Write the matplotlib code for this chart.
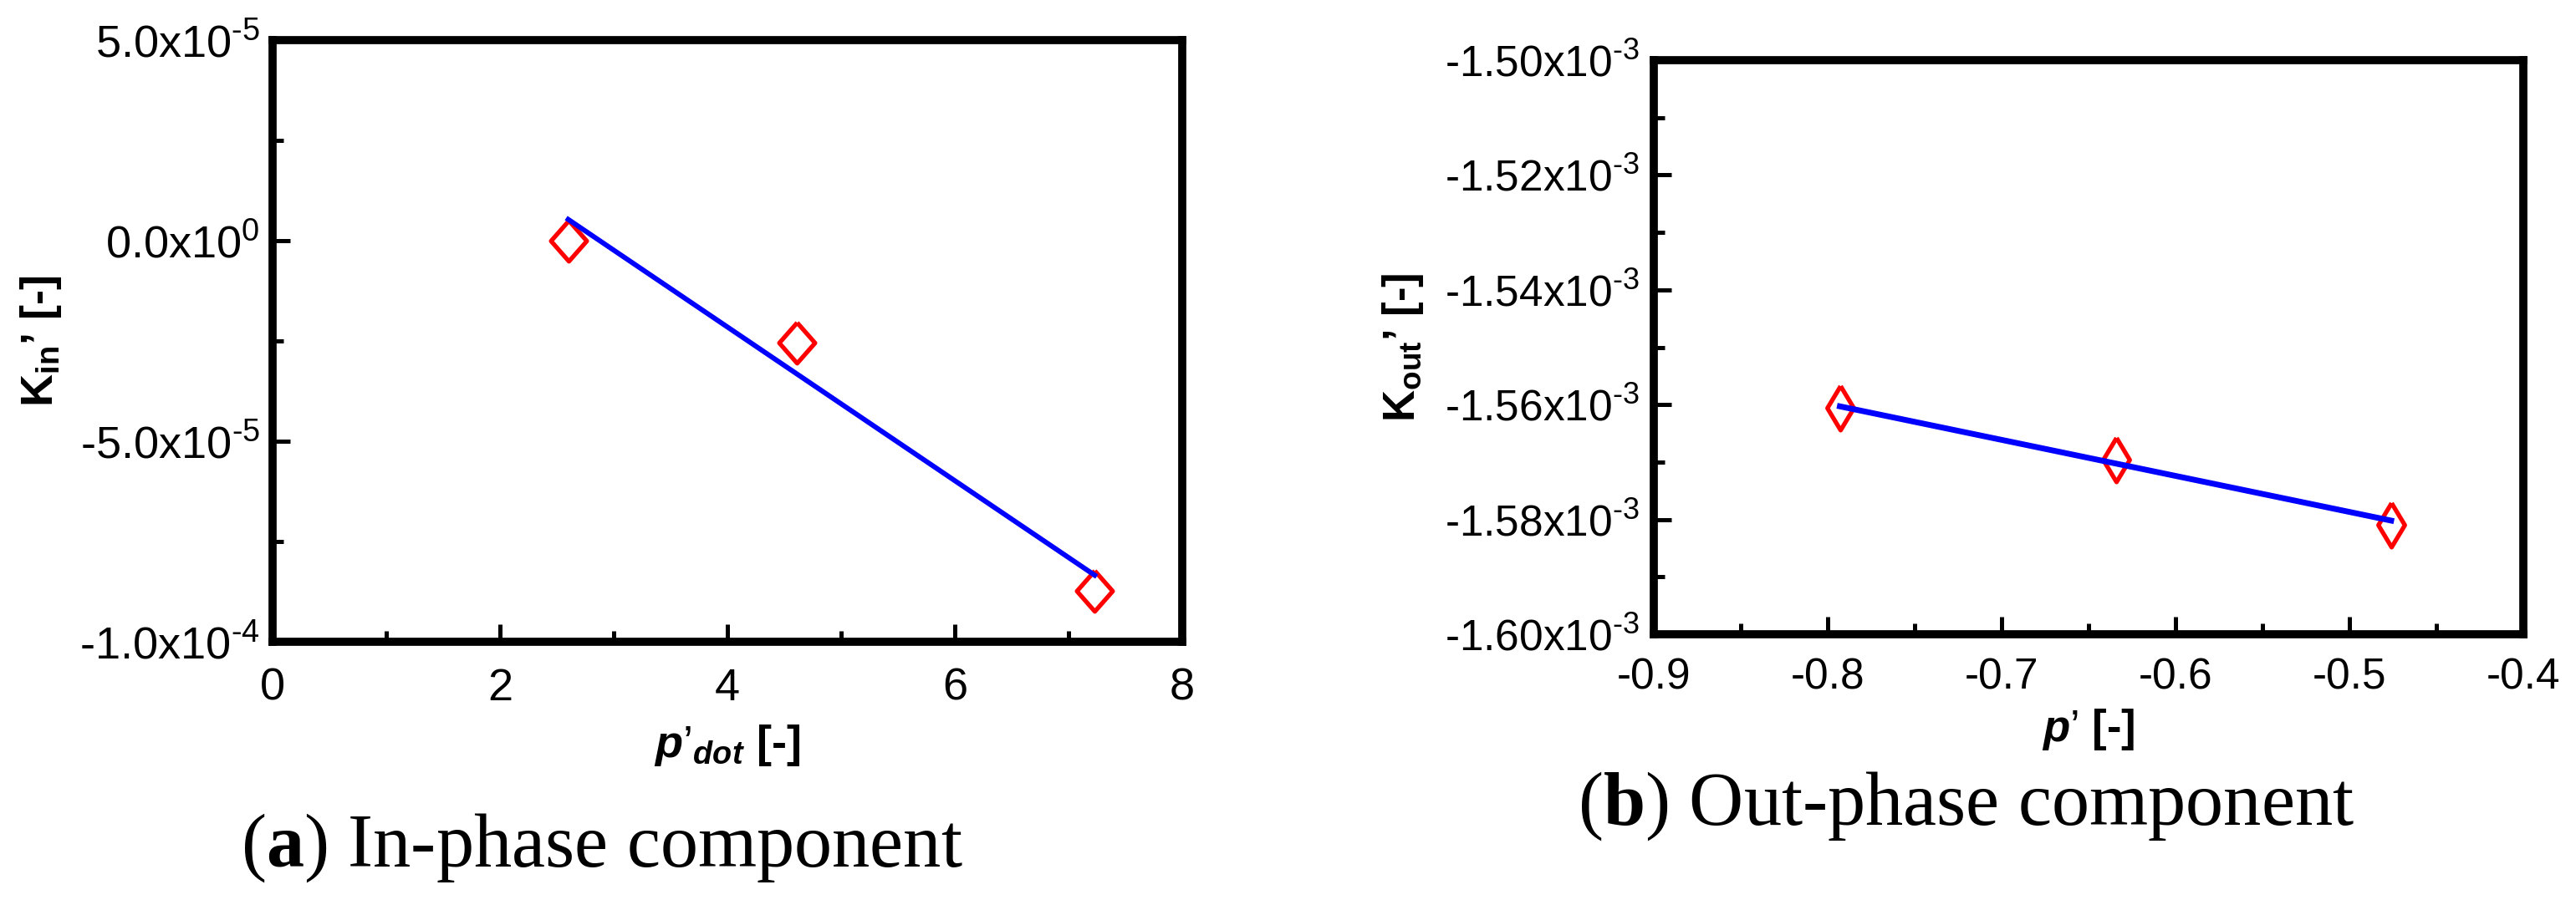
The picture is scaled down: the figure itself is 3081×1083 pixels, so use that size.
import matplotlib
matplotlib.use("Agg")
import matplotlib.pyplot as plt
from matplotlib.ticker import MultipleLocator

plt.rcParams["font.family"] = ["Liberation Sans", "DejaVu Sans"]
plt.rcParams["axes.unicode_minus"] = False
plt.rcParams["mathtext.fontset"] = "custom"
plt.rcParams["mathtext.default"] = "regular"
plt.rcParams["mathtext.rm"] = "Liberation Sans"
plt.rcParams["mathtext.it"] = "Liberation Sans:italic:bold"
plt.rcParams["mathtext.bf"] = "Liberation Serif:bold"

# (a) in-phase component
pdot = [2.60, 4.61, 7.23]
kIn = [0.0, -2.55e-5, -8.73e-5]
pdotFit = [2.60, 7.23]
kInFit = [0.53e-5, -8.34e-5]
inYTicks = [5e-5, 0.0, -5e-5, -1e-4]
inYLabels = [r"5.0x10$^{\text{-5}}$", r"0.0x10$^{0}$", r"-5.0x10$^{\text{-5}}$", r"-1.0x10$^{\text{-4}}$"]

# (b) out-phase component
pOut = [-0.793, -0.634, -0.476]
kOut = [-1.5606e-3, -1.5696e-3, -1.5810e-3]
pOutFit = [-0.793, -0.476]
kOutFit = [-1.5603e-3, -1.5802e-3]
outYTicks = [-1.50e-3, -1.52e-3, -1.54e-3, -1.56e-3, -1.58e-3, -1.60e-3]
outYLabels = [r"-1.50x10$^{\text{-3}}$", r"-1.52x10$^{\text{-3}}$", r"-1.54x10$^{\text{-3}}$",
              r"-1.56x10$^{\text{-3}}$", r"-1.58x10$^{\text{-3}}$", r"-1.60x10$^{\text{-3}}$"]

W, H = 3081, 1083
RED = "#FF0000"
BLUE = "#0000FF"

fig = plt.figure(figsize=(W / 100, H / 100), dpi=100)
axIn = fig.add_axes([326 / W, 1 - 768 / H, 1088 / W, 720 / H])
axOut = fig.add_axes([1978 / W, 1 - 759 / H, 1040 / W, 687 / H])


def styleAxes(ax, xpad, ypad, size):
    for spine in ax.spines.values():
        spine.set_linewidth(7)
    ax.tick_params(which="both", direction="in", top=False, right=False, width=3.6, colors="black")
    ax.tick_params(which="major", length=15, labelsize=size)
    ax.tick_params(which="minor", length=9.5)
    ax.tick_params(axis="y", which="major", pad=ypad)
    ax.tick_params(axis="x", which="major", pad=xpad)


leftDiamond = [(0, 1), (0.88, 0), (0, -1), (-0.88, 0), (0, 1)]
rightDiamond = [(0, 1), (0.6, 0), (0, -1), (-0.6, 0), (0, 1)]

axIn.plot(pdot, kIn, linestyle="none", marker=leftDiamond, markersize=35, markerfacecolor="none",
          markeredgecolor=RED, markeredgewidth=3.8, zorder=3)
axIn.plot(pdotFit, kInFit, color=BLUE, linewidth=4.3, zorder=4)
axIn.set_xlim(0, 8)
axIn.set_ylim(-1e-4, 5e-5)
axIn.xaxis.set_major_locator(MultipleLocator(2))
axIn.xaxis.set_minor_locator(MultipleLocator(1))
axIn.set_yticks(inYTicks, inYLabels)
axIn.yaxis.set_minor_locator(MultipleLocator(2.5e-5))
styleAxes(axIn, 22, 11, 39)
axIn.set_ylabel("K$_{in}$’ [-]", fontsize=39, fontweight="bold", va="center")
axIn.yaxis.set_label_coords((49 - 326) / 1088, 0.5)
axIn.set_xlabel(r"$\mathit{p’_{dot}}$ [-]", fontsize=39, fontweight="bold", va="center")
axIn.xaxis.set_label_coords(0.5, (768 - 892) / 720)

axOut.plot(pOut, kOut, linestyle="none", marker=rightDiamond, markersize=38, markerfacecolor="none",
           markeredgecolor=RED, markeredgewidth=3.8, zorder=3)
axOut.plot(pOutFit, kOutFit, color=BLUE, linewidth=5.0, zorder=4)
axOut.set_xlim(-0.9, -0.4)
axOut.set_ylim(-1.60e-3, -1.50e-3)
axOut.xaxis.set_major_locator(MultipleLocator(0.1))
axOut.xaxis.set_minor_locator(MultipleLocator(0.05))
axOut.set_yticks(outYTicks, outYLabels)
axOut.yaxis.set_minor_locator(MultipleLocator(0.01e-3))
styleAxes(axOut, 20, 12, 37)
axOut.set_ylabel("K$_{out}$’ [-]", fontsize=38, fontweight="bold", va="center")
axOut.yaxis.set_label_coords((1678 - 1978) / 1040, 0.5)
axOut.set_xlabel(r"$\mathit{p’}$ [-]", fontsize=38, fontweight="bold", va="center")
axOut.xaxis.set_label_coords(0.5, (759 - 873) / 687)

fig.text(288 / W, 1 - 1037 / H, r"($\mathbf{a}$) In-phase component", family="Liberation Serif",
         fontsize=65, ha="left", va="baseline")
fig.text(1887 / W, 1 - 987 / H, r"($\mathbf{b}$) Out-phase component", family="Liberation Serif",
         fontsize=65, ha="left", va="baseline")

fig.savefig("out.png", dpi=100, facecolor="white")
